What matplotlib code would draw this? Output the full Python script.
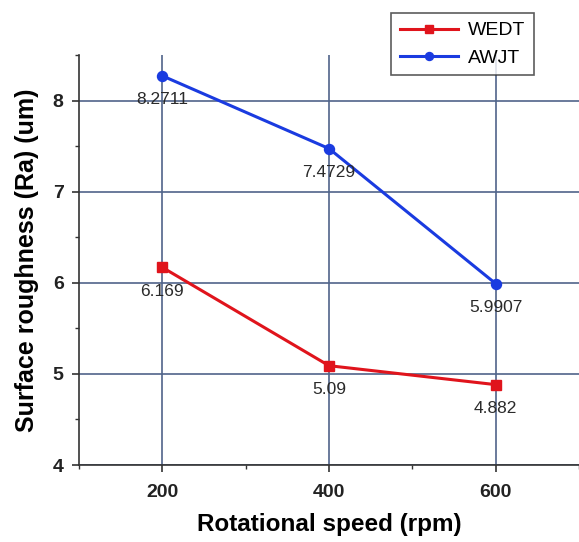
import numpy as np
import matplotlib.pyplot as plt
from matplotlib.ticker import MultipleLocator

plt.rcParams['font.family'] = ['Liberation Sans', 'DejaVu Sans']

# rotational speed (rpm) and measured Ra (um)
speed = [200, 400, 600]
wedt = [6.169, 5.09, 4.882]
awjt = [8.2711, 7.4729, 5.9907]
wedt_labels = ["6.169", "5.09", "4.882"]
awjt_labels = ["8.2711", "7.4729", "5.9907"]

fig = plt.figure(figsize=(5.79, 5.42), dpi=100)
ax = fig.add_axes([79/579, 1 - 465/542, 1 - 79/579, (465 - 55)/542])

ax.plot(speed, wedt, color='#e0141c', lw=2.2, marker='s', ms=6.5, label='WEDT', zorder=3)
ax.plot(speed, awjt, color='#1a3be0', lw=2.2, marker='o', ms=7.2, label='AWJT', zorder=3)

# value labels just below each point
px = 72 / fig.dpi
for xs, ys, labels in [(speed, wedt, wedt_labels), (speed, awjt, awjt_labels)]:
    for x, y, t in zip(xs, ys, labels):
        ax.annotate(t, (x, y), xytext=(0, -24 * px), textcoords='offset points',
                    ha='center', va='center', fontsize=12.5, color='#2a2a2a')

ax.set_xlim(100, 700)
ax.set_ylim(4, 8.5)
ax.set_xticks([200, 400, 600])
ax.set_yticks([4, 5, 6, 7, 8])
ax.xaxis.set_minor_locator(MultipleLocator(100))
ax.yaxis.set_minor_locator(MultipleLocator(0.5))
ax.grid(True, which='major', color='#50648a', lw=1.2)
ax.set_axisbelow(True)

for s in ['top', 'right']:
    ax.spines[s].set_visible(False)
for s in ['left', 'bottom']:
    ax.spines[s].set_color('#333333')
    ax.spines[s].set_linewidth(1.2)
ax.tick_params(which='major', length=5, width=1.2, color='#333333', labelsize=14)
ax.tick_params(axis='x', which='major', pad=9)
ax.tick_params(axis='y', which='major', pad=6)
ax.tick_params(which='minor', length=3, width=1.0, color='#333333')
for lbl in ax.get_xticklabels() + ax.get_yticklabels():
    lbl.set_fontweight('bold')
    lbl.set_color('#222222')

ax.set_xlabel('Rotational speed (rpm)', fontsize=17.5, fontweight='bold', labelpad=8)
ax.set_ylabel('Surface roughness (Ra) (um)', fontsize=18, fontweight='bold', labelpad=10)

leg = fig.legend(loc='upper left', bbox_to_anchor=(391/579, 1 - 13/542), borderaxespad=0,
                 fontsize=14, frameon=True, fancybox=False, edgecolor='#333333',
                 handlelength=3.0, borderpad=0.45, labelspacing=0.5, handletextpad=0.5,
                 markerscale=0.8)
leg.get_frame().set_linewidth(1.2)

fig.savefig('out.png', dpi=100)
